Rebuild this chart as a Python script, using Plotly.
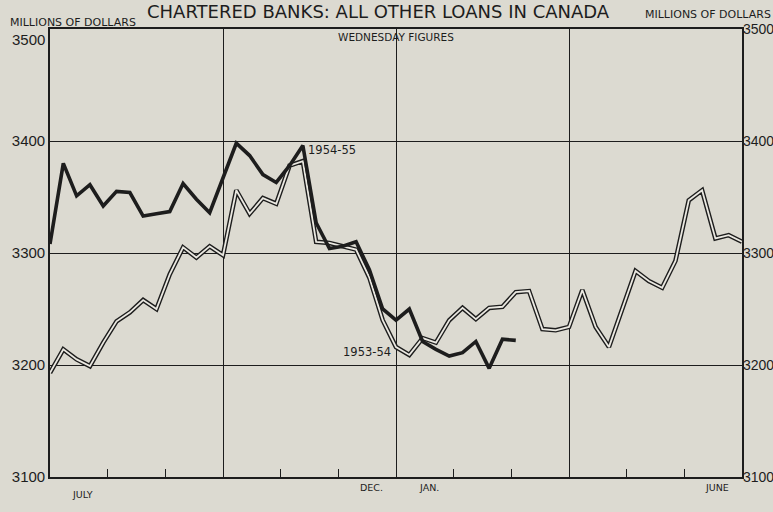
import plotly.graph_objects as go

# ---------------- data ----------------
weeks_1954_55 = list(range(36))
loans_1954_55 = [3308, 3380, 3351, 3361, 3342, 3355, 3354, 3333, 3335, 3337,
                 3362, 3348, 3336, 3367, 3398, 3387, 3370, 3363, 3378, 3396,
                 3327, 3304, 3306, 3310, 3285, 3250, 3240, 3250, 3221, 3214,
                 3208, 3211, 3221, 3197, 3223, 3222]

weeks_1953_54 = list(range(53))
loans_1953_54 = [3193, 3214, 3205, 3199, 3220, 3239, 3247, 3258, 3250, 3281,
                 3305, 3296, 3306, 3298, 3356, 3335, 3349, 3344, 3378, 3382,
                 3310, 3309, 3306, 3303, 3278, 3240, 3216, 3209, 3224, 3220,
                 3240, 3251, 3241, 3251, 3252, 3265, 3266, 3232, 3231, 3234,
                 3267, 3234, 3216, 3250, 3284, 3275, 3269, 3293, 3347, 3356,
                 3313, 3316, 3310]

y_ticks = [3100, 3200, 3300, 3400, 3500]
y_tick_labels = ["3100", "3200", "3300", "3400", "3500"]
quarter_weeks = [0, 13, 26, 39, 52]
month_labels = {0: "JULY", 5: "DEC.", 6: "JAN.", 11: "JUNE"}
series_names = ["1953-54", "1954-55"]

# ---------------- styling ----------------
BG = "#dcdad1"
CORE = "#ebe9e2"
INK = "#1d1d1d"
W, H = 773, 512
ML, MR, MT, MB = 50, 31, 29, 35
PW, PH = W - ML - MR, H - MT - MB
WEEKS_PER_MONTH = 52 / 12
Y_RANGE = [3100, 3500]

def px(x):
    return (x - ML) / PW

def py(y):
    return (H - MB - y) / PH

fig = go.Figure()

# 1953-54: double (outlined) line
fig.add_trace(go.Scatter(x=weeks_1953_54, y=loans_1953_54, mode="lines",
                         line=dict(color=INK, width=4.6), hoverinfo="skip"))
fig.add_trace(go.Scatter(x=weeks_1953_54, y=loans_1953_54, mode="lines",
                         name=series_names[0],
                         line=dict(color=CORE, width=1.8)))
# 1954-55: heavy black line (on the right-hand axis, same scale)
fig.add_trace(go.Scatter(x=weeks_1954_55, y=loans_1954_55, mode="lines",
                         name=series_names[1], yaxis="y2",
                         line=dict(color=INK, width=3.6)))

month_ticks = [k * WEEKS_PER_MONTH for k in range(1, 12) if k % 3 != 0]

fig.update_xaxes(range=[0, 52], tickmode="array", tickvals=quarter_weeks,
                 showgrid=True, gridcolor=INK, gridwidth=1.2,
                 showticklabels=False, ticks="", zeroline=False,
                 automargin=False,
                 showline=True, mirror=True, linecolor=INK, linewidth=1.6,
                 minor=dict(tickmode="array", tickvals=month_ticks,
                            ticks="inside", ticklen=8, tickwidth=1.2,
                            tickcolor=INK, showgrid=False))

# left axis: the top label sits below the frame line, drawn as a note
left_text = y_tick_labels[:-1] + [""]

fig.update_layout(
    width=W, height=H,
    margin=dict(l=ML, r=MR, t=MT, b=MB, pad=0, autoexpand=False),
    paper_bgcolor=BG, plot_bgcolor=BG, showlegend=False,
    yaxis=dict(range=Y_RANGE, tickmode="array", tickvals=y_ticks,
               ticktext=left_text, automargin=False,
               showgrid=True, gridcolor=INK, gridwidth=1.2, zeroline=False,
               ticks="", showline=True, mirror=True, linecolor=INK,
               linewidth=1.6,
               tickfont=dict(family="Liberation Sans, Arial", size=15,
                             color=INK)),
    yaxis2=dict(range=Y_RANGE, tickmode="array", tickvals=y_ticks,
                ticktext=y_tick_labels, automargin=False,
                overlaying="y", side="right", showgrid=False,
                zeroline=False, ticks="", showline=False,
                tickfont=dict(family="Liberation Sans, Arial",
                              size=14, color=INK)),
)

small = dict(family="DejaVu Sans", size=11, color=INK)
ann = []
ann.append(dict(text="CHARTERED BANKS: ALL OTHER LOANS IN CANADA",
                xref="paper", yref="paper", x=px(145), y=py(12),
                xanchor="left", yanchor="middle", showarrow=False,
                font=dict(family="DejaVu Sans", size=18, color=INK)))
ann.append(dict(text="MILLIONS OF DOLLARS", xref="paper", yref="paper",
                x=px(8), y=py(23), xanchor="left", yanchor="middle",
                showarrow=False, font=small))
ann.append(dict(text="MILLIONS OF DOLLARS", xref="paper", yref="paper",
                x=px(773), y=py(14), xanchor="right", yanchor="middle",
                showarrow=False, font=small))
ann.append(dict(text=y_tick_labels[-1], xref="paper", yref="paper",
                x=px(47), y=py(40), xanchor="right", yanchor="middle",
                showarrow=False,
                font=dict(family="Liberation Sans, Arial", size=15, color=INK)))
ann.append(dict(text="WEDNESDAY FIGURES", xref="paper", yref="paper",
                x=px(396), y=py(37), xanchor="center", yanchor="middle",
                showarrow=False, font=dict(family="DejaVu Sans", size=10.5,
                                           color=INK)))
ann.append(dict(text=series_names[1], xref="x", yref="y", x=19.25, y=3392,
                xanchor="left", yanchor="middle", showarrow=False,
                font=dict(family="DejaVu Sans", size=11.5, color=INK)))
ann.append(dict(text=series_names[0], xref="x", yref="y", x=25.8, y=3212,
                xanchor="right", yanchor="middle", showarrow=False,
                font=dict(family="DejaVu Sans", size=11.5, color=INK)))
for m, lab in month_labels.items():
    ann.append(dict(text=lab, xref="x", yref="paper",
                    x=(m + 0.5) * WEEKS_PER_MONTH, y=py(494 if m == 0 else 487),
                    xanchor="center", yanchor="middle", xshift=4,
                    showarrow=False,
                    font=dict(family="DejaVu Sans", size=9.5, color=INK)))
fig.update_layout(annotations=ann)

fig.write_html("out.html", config={"displayModeBar": False},
               post_script="document.body.style.margin='0';"
                           "document.body.style.overflow='hidden';")
